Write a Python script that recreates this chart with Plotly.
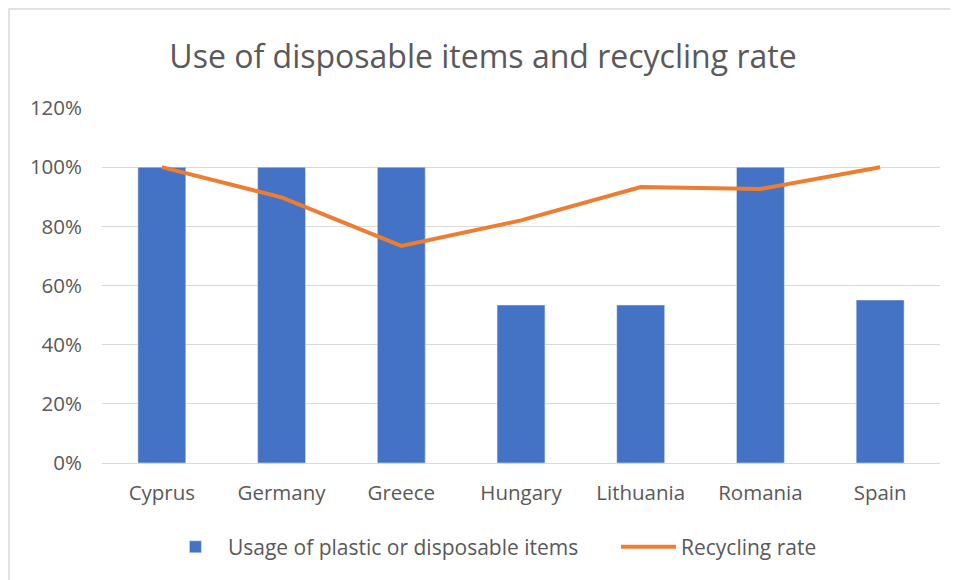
import plotly.graph_objects as go

countries = ["Cyprus", "Germany", "Greece", "Hungary", "Lithuania", "Romania", "Spain"]
usage = [1.00, 1.00, 1.00, 0.534, 0.534, 1.00, 0.551]
recycling = [1.00, 0.898, 0.734, 0.820, 0.933, 0.926, 1.00]

fig = go.Figure()
fig.add_trace(go.Bar(
    x=countries, y=usage, name="Usage of plastic or disposable items" + "\u00a0" * 6,
    marker=dict(color="#4472C4"),
))
fig.add_trace(go.Scatter(
    x=countries, y=recycling, name="Recycling rate", mode="lines",
    line=dict(color="#ED7D31", width=4),
))

# page has an 8px body margin; figure sized so plot area lands at x 102-940, y 108-463
fig.update_layout(
    width=950, height=572,
    paper_bgcolor="white", plot_bgcolor="white",
    font=dict(family="Open Sans, Noto Sans, sans-serif", color="#595959", size=18),
    title=dict(text="Use of disposable items and recycling rate", x=0.5, xanchor="center",
               y=0.915, yanchor="middle", font=dict(size=32, color="#595959")),
    margin=dict(l=94, r=18, t=100, b=117),
    bargap=0.6,
    showlegend=True,
    legend=dict(orientation="h", x=0.0727, xanchor="left", y=-0.237, yanchor="middle",
                font=dict(size=21, color="#595959"), itemwidth=55, tracegroupgap=0),
    xaxis=dict(showline=True, linecolor="#d9d9d9", linewidth=1, ticks="", showgrid=False,
               tickfont=dict(size=20.5), ticklabelstandoff=11),
    yaxis=dict(range=[0, 1.2], dtick=0.2, tickformat=".0%", showgrid=True,
               gridcolor="#d9d9d9", gridwidth=1, zeroline=False, ticks="",
               tickfont=dict(size=20.5), ticklabelstandoff=19),
    shapes=[dict(type="rect", xref="paper", yref="paper",
                 x0=-0.1110, x1=1.2, y0=-0.5, y1=1.2789,
                 line=dict(color="#d9d9d9", width=1.5), layer="below")],
)

fig.write_html("out.html")
